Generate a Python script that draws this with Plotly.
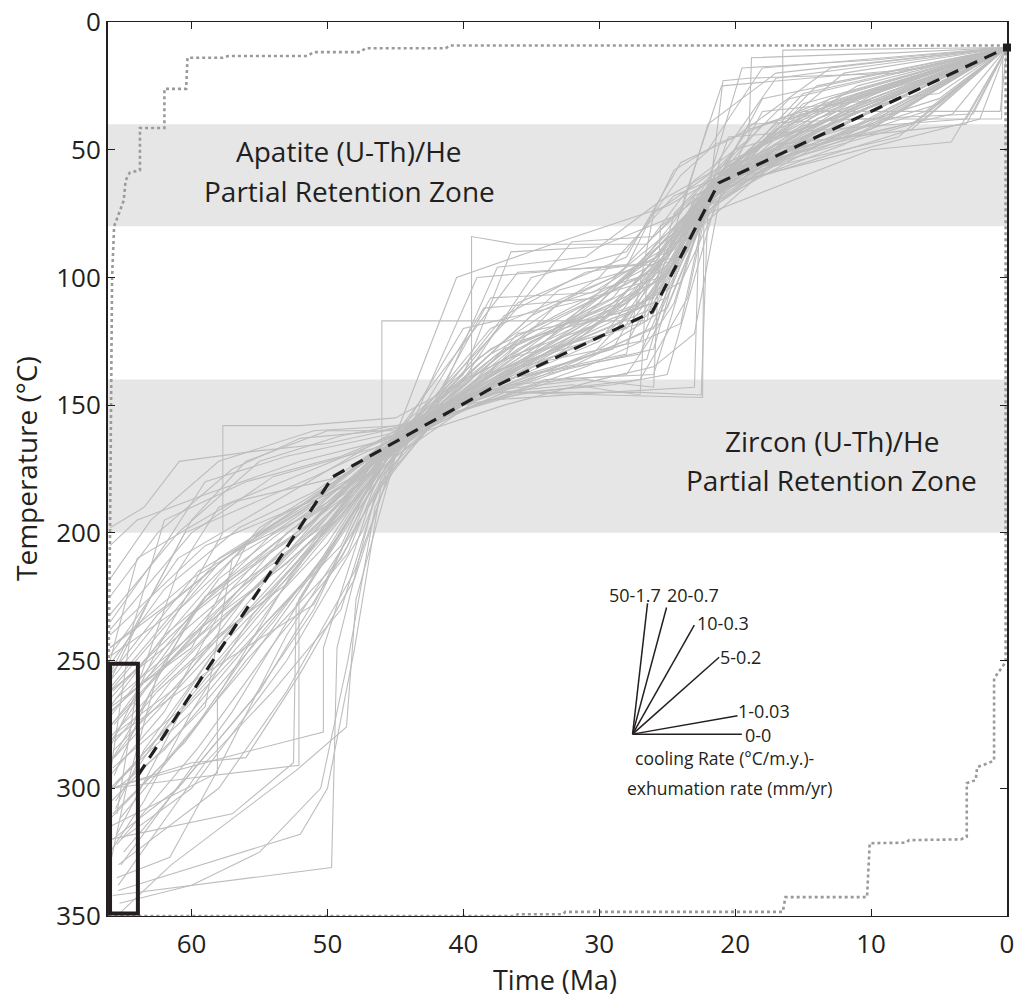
import plotly.graph_objects as go

# ---------------- data ----------------
x_ticks = [60, 50, 40, 30, 20, 10, 0]
y_ticks = [0, 50, 100, 150, 200, 250, 300, 350]

apatite_zone = [40, 80]
zircon_zone = [140, 200]

# thermal history paths (time Ma, temperature C)
gray_paths = [
    [(66.0,262),(58.0,212),(49.5,180),(44.0,158),(33.0,128),(24.0,95),(21.0,62),(12.0,35),(0,10)],
    [(65.8,300),(55.0,235),(48.0,182),(43.0,156),(30.0,118),(23.5,78),(19.0,50),(8.0,28),(0,10)],
    [(66.1,285),(62.0,240),(52.0,196),(45.5,165),(38.0,140),(27.0,112),(22.0,70),(14.0,42),(0,10)],
    [(65.5,318),(60.0,262),(51.0,205),(46.0,168),(36.0,128),(26.0,100),(21.5,60),(10.0,30),(0,10)],
    [(66.0,248),(61.0,210),(53.0,185),(45.0,160),(40.0,148),(30.0,125),(22.5,72),(16.0,45),(0,10)],
    [(65.2,330),(57.0,270),(49.0,200),(44.5,162),(35.0,115),(25.0,90),(21.0,58),(13.0,30),(0,10)],
    [(66.0,272),(59.0,225),(50.0,188),(44.0,160),(39.0,100),(28.0,95),(22.0,62),(6.0,35),(0,10)],
    [(65.7,295),(63.0,262),(54.0,214),(47.0,172),(42.0,155),(33.0,140),(26.5,132),(23.0,68),(15.0,48),(0,10)],
    [(66.0,255),(60.5,200),(51.0,178),(45.0,163),(37.0,145),(27.0,145),(22.5,146),(22.0,72),(11.0,40),(0,10)],
    [(65.4,340),(52.0,318),(50.0,300),(48.0,245),(46.0,180),(41.0,150),(32.0,115),(24.0,85),(20.0,55),(4.0,36),(0,10)],
    [(65.8,342),(49.7,331),(49.3,245),(46.5,185),(42.0,155),(32.0,120),(24.0,80),(20.5,55),(9.0,25),(0,10)],
    [(65.3,349),(61.5,330),(52.3,293),(48.6,276),(47.9,226),(45.0,170),(40.0,140),(30.0,115),(24.5,88),(21.0,60),(12.0,32),(0,10)],
    [(65.5,335),(61.6,327),(58.2,294),(53.0,240),(47.0,190),(44.0,160),(36.0,125),(26.0,110),(22.0,65),(17.0,40),(0,10)],
    [(66.0,300),(56.2,286),(50.3,278),(50.3,245),(47.0,190),(43.5,160),(37.0,132),(28.0,120),(22.5,80),(15.0,45),(0,10)],
    [(66.0,315),(58.1,294),(58.1,264),(52.5,215),(46.0,175),(41.0,152),(34.0,130),(27.0,105),(22.0,66),(10.0,38),(0,10)],
    [(65.9,300),(60.0,296),(52.1,291),(52.1,226),(47.0,182),(44.0,158),(38.0,142),(29.0,128),(23.0,70),(18.0,52),(5.0,30),(0,10)],
    [(66.0,240),(59.0,205),(50.0,185),(46.0,175),(46.0,117),(26.5,117),(24.5,75),(20.0,50),(8.0,30),(0,10)],
    [(66.0,268),(62.0,240),(57.7,200),(57.7,158),(52.0,158),(45.0,155),(38.0,135),(30.0,110),(23.0,72),(18.0,40),(0,10)],
    [(66.0,198),(63.5,190),(60.9,172),(55.3,168),(50.0,165),(44.0,158),(34.0,138),(26.0,120),(21.5,64),(11.0,30),(0,10)],
    [(66.0,280),(56.0,225),(48.0,182),(43.0,157),(39.4,140),(39.4,84),(36.1,87),(26.5,87),(23.0,62),(19.0,46),(18.8,14),(8.0,12),(0,10)],
    [(65.6,305),(57.5,240),(49.0,190),(44.0,160),(35.0,120),(25.0,92),(21.0,62),(16.5,40),(16.5,11),(0,10)],
    [(66.0,258),(59.5,215),(51.5,190),(45.5,163),(37.0,128),(27.5,108),(22.0,72),(20.9,23),(19.0,22),(8.0,20),(0,10)],
    [(65.9,275),(58.5,232),(50.5,193),(45.0,165),(38.5,138),(29.0,122),(24.0,88),(21.0,68),(11.9,38),(0.4,38),(0.3,12),(0,10)],
    [(65.7,288),(57.0,238),(49.0,193),(44.0,161),(36.0,130),(27.0,112),(22.0,75),(10.0,50),(4.1,47),(0,10)],
    [(66.0,245),(60.0,218),(52.0,192),(46.0,167),(37.0,145),(22.4,147),(22.3,75),(16.0,50),(0,10)],
    [(65.9,260),(58.0,210),(50.0,183),(45.0,162),(40.5,100),(34.0,88),(25.0,72),(21.0,60),(12.0,20),(0,10)],
    [(65.0,325),(55.0,262),(48.5,205),(45.5,165),(39.0,145),(31.0,140),(26.0,143),(25.5,80),(21.0,62),(15.0,28),(0,10)],
    [(66.0,265),(61.0,235),(55.0,198),(48.0,175),(43.0,157),(36.0,110),(28.0,92),(24.0,55),(20.0,45),(13.0,18),(0,10)],
    [(65.8,310),(60.5,282),(56.0,250),(49.0,210),(45.0,168),(41.0,152),(33.0,130),(26.5,115),(21.5,66),(7.0,42),(0,10)],
    [(66.0,225),(62.5,200),(57.0,175),(52.0,163),(46.0,160),(43.0,156),(32.0,118),(26.0,102),(22.5,70),(18.0,58),(9.0,36),(0,10)],
    [(65.9,305),(59.0,268),(57.0,210),(50.0,188),(44.5,162),(38.0,120),(29.0,100),(22.5,72),(19.5,18),(10.0,15),(0,10)],
    [(65.2,320),(60.0,300),(53.0,250),(47.5,200),(45.0,168),(40.0,150),(35.0,145),(27.0,140),(23.5,108),(22.0,70),(14.0,38),(0,10)],
    [(66.0,238),(60.0,200),(54.0,178),(46.0,166),(42.0,150),(37.5,96),(31.0,92),(25.5,70),(20.5,55),(11.0,28),(0,10)],
    [(65.6,280),(59.0,255),(51.0,228),(47.0,185),(44.0,160),(38.0,138),(30.0,118),(25.0,92),(21.0,64),(2.0,38),(0,10)],
    [(66.0,295),(62.0,270),(58.0,232),(52.0,200),(46.5,172),(42.5,155),(35.0,125),(28.0,110),(22.5,68),(19.0,42),(6.0,22),(0,10)],
    [(65.9,270),(61.0,245),(55.0,210),(51.0,195),(45.5,166),(41.0,145),(33.0,105),(27.0,96),(21.5,63),(17.0,48),(3.0,40),(0,10)],
    [(65.4,330),(58.0,300),(53.0,262),(48.0,215),(45.0,170),(39.0,148),(30.0,128),(25.0,112),(21.0,60),(10.0,42),(0,10)],
    [(66.0,250),(64.0,210),(57.0,188),(49.0,178),(43.5,158),(34.0,125),(26.5,93),(22.0,66),(15.0,35),(0.5,35),(0,10)],
    [(65.8,262),(59.5,230),(53.5,205),(48.5,185),(44.0,160),(38.5,112),(30.0,108),(24.0,80),(20.5,60),(14.0,25),(0,10)],
    [(66.0,282),(63.0,258),(56.5,222),(50.0,196),(45.5,165),(42.0,140),(36.0,98),(26.0,95),(22.0,62),(16.0,30),(0,10)],
    [(65.5,300),(62.0,285),(54.0,235),(49.0,200),(45.0,166),(40.0,152),(31.0,135),(24.0,118),(22.5,80),(20.0,60),(8.0,45),(0,10)],
    [(66.0,232),(61.0,200),(55.0,172),(49.0,162),(44.0,157),(37.0,140),(28.0,130),(26.0,75),(22.0,60),(17.0,22),(0,10)],
    [(65.7,275),(61.5,250),(54.5,218),(47.5,180),(44.5,160),(40.0,120),(32.0,110),(25.5,100),(21.0,65),(18.0,35),(5.0,28),(0,10)],
    [(66.0,258),(63.0,225),(60.0,195),(56.0,172),(50.0,160),(45.0,160),(38.0,128),(29.0,105),(23.5,90),(21.5,60),(11.0,25),(0,10)],
    [(65.3,312),(60.0,278),(55.0,240),(50.0,208),(46.0,175),(42.5,155),(36.0,135),(27.0,125),(22.0,70),(13.0,40),(0,10)],
    [(66.0,290),(64.0,272),(60.0,232),(54.0,200),(48.0,178),(44.5,160),(37.0,118),(32.0,86),(26.0,84),(21.5,62),(12.0,45),(0,10)],
    [(65.9,268),(60.0,245),(56.0,205),(49.5,188),(45.5,165),(41.5,150),(34.0,138),(26.0,128),(23.0,72),(19.0,55),(15.0,36),(0,10)],
    [(65.6,298),(58.0,255),(50.5,212),(46.5,178),(44.0,159),(36.5,142),(28.0,138),(24.5,110),(22.0,68),(10.0,30),(0,10)],
    [(66.0,245),(61.0,225),(54.0,195),(47.0,175),(43.5,158),(38.0,148),(29.5,145),(23.0,143),(22.6,70),(18.0,48),(0,10)],
    [(65.8,320),(61.0,300),(55.5,265),(51.0,230),(47.5,190),(44.0,160),(39.0,132),(30.0,100),(24.5,68),(20.0,58),(9.0,38),(0,10)],
    [(66.0,205),(64.0,195),(59.0,185),(52.0,172),(46.0,164),(41.0,150),(33.0,130),(25.0,98),(21.5,66),(16.5,40),(0,10)],
    [(65.5,278),(61.0,260),(56.0,225),(50.0,198),(46.0,170),(43.0,157),(38.0,108),(30.5,106),(25.0,88),(21.0,63),(14.0,42),(0,10)],
    [(66.0,300),(60.0,270),(54.5,235),(49.0,205),(46.0,170),(41.5,155),(33.5,128),(27.0,118),(22.0,68),(20.5,45),(3.0,38),(0,10)],
    [(65.9,255),(62.5,232),(57.5,210),(51.5,188),(44.5,162),(40.0,145),(35.0,130),(29.0,112),(24.0,80),(21.0,60),(18.0,30),(0,10)],
    [(65.4,338),(63.0,320),(59.0,290),(54.0,262),(49.0,230),(46.0,178),(42.0,156),(34.0,140),(26.0,138),(22.0,68),(12.0,48),(0,10)],
    [(66.0,270),(59.0,238),(53.0,200),(48.0,182),(43.5,158),(37.0,115),(31.0,98),(24.0,92),(21.5,60),(13.5,32),(0,10)],
    [(65.7,285),(62.0,265),(57.0,235),(52.5,205),(47.0,178),(42.0,154),(36.0,136),(30.0,124),(25.5,104),(22.5,74),(17.0,55),(7.0,40),(0,10)],
    [(66.0,312),(62.0,290),(56.0,252),(51.0,215),(46.0,172),(41.0,150),(31.0,118),(26.0,108),(23.5,65),(21.0,25),(6.0,18),(0,10)],
    [(65.9,248),(60.5,228),(55.0,200),(48.5,180),(44.0,159),(39.0,146),(32.0,142),(27.0,146),(26.5,100),(21.0,62),(9.0,32),(0,10)],
    [(65.6,308),(63.5,285),(58.5,248),(53.0,218),(48.0,185),(44.5,160),(38.0,130),(31.5,112),(27.0,100),(22.0,64),(15.5,46),(0,10)],
    [(66.0,262),(62.0,245),(57.0,222),(51.0,200),(45.0,162),(40.0,138),(36.5,90),(30.0,88),(24.0,75),(22.0,40),(17.0,20),(0,10)],
    [(65.8,292),(61.0,270),(55.0,232),(50.0,204),(45.5,168),(42.0,155),(35.5,145),(29.0,142),(25.0,138),(21.5,72),(14.0,45),(0,10)],
    [(66.0,218),(63.0,195),(58.0,172),(51.0,160),(44.5,158),(38.0,140),(31.0,120),(25.0,108),(22.0,68),(19.0,40),(2.5,36),(0,10)],
    [(65.5,322),(59.5,284),(53.5,240),(48.5,208),(45.5,168),(41.0,152),(35.0,132),(28.5,118),(23.0,76),(20.0,60),(11.0,35),(0,10)],
    [(66.0,276),(63.0,255),(58.0,218),(52.0,194),(46.5,172),(43.0,157),(39.5,145),(33.0,110),(26.0,98),(22.0,64),(16.0,38),(0,10)],
    [(65.9,300),(60.0,290),(56.0,288),(52.0,255),(48.0,218),(45.0,168),(40.0,148),(30.5,130),(24.5,96),(21.0,64),(13.0,32),(0,10)],
    [(65.6,265),(60.0,240),(53.0,212),(47.5,184),(44.0,160),(40.5,148),(36.0,122),(28.5,114),(24.0,102),(20.5,62),(10.0,40),(0,10)],
    [(66.0,290),(61.5,258),(54.0,222),(48.5,190),(45.0,164),(37.0,150),(30.0,140),(26.0,135),(23.0,122),(21.0,65),(15.0,32),(0,10)],
    [(65.7,282),(62.5,262),(58.0,240),(53.0,220),(48.0,188),(44.0,160),(35.0,130),(28.0,96),(24.5,58),(22.0,50),(18.0,18),(0,10)],
    [(66.0,325),(63.5,305),(60.0,270),(55.5,232),(50.5,200),(46.0,168),(42.0,153),(36.0,126),(29.0,108),(23.0,68),(11.0,44),(0,10)],
    [(65.8,250),(62.0,222),(56.5,198),(51.0,184),(45.5,164),(40.0,150),(32.5,136),(25.5,118),(22.0,72),(18.0,55),(6.0,38),(0,10)],
    [(66.0,235),(62.0,205),(59.0,180),(53.0,170),(46.0,162),(42.0,156),(35.0,100),(28.0,90),(24.0,60),(21.5,48),(12.0,28),(0,10)],
    [(66.0,295),(64.5,240),(62.0,195),(56.0,180),(49.0,170),(44.0,159),(36.0,140),(28.0,126),(22.5,72),(14.0,38),(0,10)],
    [(65.5,310),(64.0,260),(61.0,215),(58.0,190),(51.0,175),(45.0,162),(39.0,146),(31.5,124),(25.0,95),(21.5,62),(9.0,26),(0,10)],
    [(66.0,330),(64.8,300),(62.5,255),(59.0,225),(52.0,200),(46.5,170),(43.0,157),(37.0,140),(27.0,130),(22.5,75),(17.0,42),(0,10)],
    [(65.3,345),(60.0,338),(55.0,325),(50.5,300),(48.5,250),(46.5,190),(43.5,158),(35.0,132),(26.0,112),(22.0,70),(12.0,36),(0,10)],
    [(66.0,320),(57.0,310),(52.5,290),(52.3,228),(47.0,185),(44.0,160),(37.5,130),(29.0,110),(23.0,82),(20.5,58),(5.0,32),(0,10)],
]

# weighted mean path (dashed)
mean_time = [63.95, 49.6, 37.8, 26.1, 21.6, 21.2, 0.0]
mean_temp = [295.0, 178.0, 143.0, 113.5, 67.0, 63.0, 10.0]

# envelope of good fits (dotted)
upper_env_time = [66.15, 66.1, 66.0, 65.9, 65.85, 65.7, 65.0, 64.85, 64.55, 63.8, 63.8, 62.0, 62.0,
                  60.4, 60.3, 57.7, 57.3, 51.5, 51.0, 47.6, 47.2, 41.3, 41.0, 0.1, 0.0]
upper_env_temp = [350, 250, 200, 140, 100, 80, 70, 62, 59, 58, 41.5, 41.5, 26.2,
                  26.2, 14.0, 14.0, 13.3, 13.3, 11.8, 11.8, 10.3, 10.3, 9.2, 9.2, 10]
lower_env_time = [0.0, 0.1, 0.1, 0.4, 0.95, 0.95, 1.3, 2.2, 2.3, 2.96, 2.96, 3.4, 7.2, 7.45,
                  10.1, 10.3, 16.3, 16.5, 32.5, 32.7, 36.0, 36.2, 66.15]
lower_env_temp = [10, 10, 250.6, 253, 257, 289, 290, 291.7, 296.8, 298, 319, 320, 320.3, 321.3,
                  321.5, 342.6, 342.6, 348.4, 348.4, 349.3, 349.3, 350, 350]

# cooling-rate key
rate_labels = ["50-1.7", "20-0.7", "10-0.3", "5-0.2", "1-0.03", "0-0"]
rate_origin = (27.55, 278.8)
rate_end_time = [26.45, 25.05, 23.01, 21.18, 19.83, 19.51]
rate_end_temp = [227.6, 229.2, 236.1, 248.7, 271.6, 278.8]

# ---------------- figure ----------------
FONT = "Open Sans, Noto Sans, sans-serif"
fig = go.Figure()

for p in gray_paths:
    fig.add_trace(go.Scatter(
        x=[q[0] for q in p], y=[q[1] for q in p], mode="lines",
        line=dict(color="#bdbdbd", width=1.1), hoverinfo="skip"))

for tx, ty in [(upper_env_time, upper_env_temp), (lower_env_time, lower_env_temp)]:
    fig.add_trace(go.Scatter(
        x=tx, y=ty, mode="lines", cliponaxis=False,
        line=dict(color="#9a9a9a", width=2.6, dash="3px,3px"), hoverinfo="skip"))

fig.add_trace(go.Scatter(
    x=mean_time, y=mean_temp, mode="lines",
    line=dict(color="#231f20", width=3.2, dash="13px,8px"), hoverinfo="skip"))
fig.add_trace(go.Scatter(
    x=[mean_time[-1]], y=[mean_temp[-1]], mode="markers", cliponaxis=False,
    marker=dict(symbol="square", size=8, color="#231f20"), hoverinfo="skip"))

rx, ry = [], []
for et, eT in zip(rate_end_time, rate_end_temp):
    rx += [rate_origin[0], et, None]
    ry += [rate_origin[1], eT, None]
fig.add_trace(go.Scatter(x=rx, y=ry, mode="lines",
                         line=dict(color="#231f20", width=1.5), hoverinfo="skip"))

# zones
for z in (apatite_zone, zircon_zone):
    fig.add_shape(type="rect", xref="paper", yref="y", x0=0, x1=1, y0=z[0], y1=z[1],
                  fillcolor="#e6e6e6", line=dict(width=0), layer="below")

# black box
fig.add_shape(type="rect", xref="x", yref="y", x0=66.0, x1=63.95, y0=251.2, y1=349,
              line=dict(color="#231f20", width=4), layer="above")

ann_font = dict(family=FONT, size=28, color="#231f20")
for txt, xx, yy in [("Apatite (U-Th)/He", 48.4, 50.5), ("Partial Retention Zone", 48.4, 66.2),
                    ("Zircon (U-Th)/He", 12.9, 164.0), ("Partial Retention Zone", 12.9, 179.5)]:
    fig.add_annotation(x=xx, y=yy, text=txt, showarrow=False, font=ann_font,
                       xanchor="center", yanchor="middle")

lab_pos = [(29.34, 224.4), (25.07, 224.4), (22.87, 235.3), (21.18, 248.6), (19.85, 269.8), (19.34, 279.2)]
for txt, (xx, yy) in zip(rate_labels, lab_pos):
    fig.add_annotation(x=xx, y=yy, text=txt, showarrow=False, xanchor="left", yanchor="middle",
                       font=dict(family=FONT, size=18, color="#231f20"), borderpad=0)
fig.add_annotation(x=20.8, y=288.2, text="cooling Rate (°C/m.y.)-", showarrow=False,
                   xanchor="center", yanchor="middle",
                   font=dict(family=FONT, size=17.5, color="#231f20"))
fig.add_annotation(x=20.44, y=299.9, text="exhumation rate (mm/yr)", showarrow=False,
                   xanchor="center", yanchor="middle",
                   font=dict(family=FONT, size=17.5, color="#231f20"))

# axis titles (plot area spans x 108..1007, y 22..916 in page pixels)
PLOT_W, PLOT_H = 899, 894
fig.add_annotation(xref="paper", yref="paper", x=(26 - 108) / PLOT_W, y=0.5,
                   text="Temperature (°C)", textangle=-90, showarrow=False,
                   xanchor="center", yanchor="middle",
                   font=dict(family=FONT, size=28, color="#231f20"))
fig.add_annotation(xref="paper", yref="paper", x=(555 - 108) / PLOT_W, y=-(979 - 916) / PLOT_H,
                   text="Time (Ma)", showarrow=False, xanchor="center", yanchor="middle",
                   font=dict(family=FONT, size=27, color="#231f20"))

fig.update_layout(
    width=1022, height=1002,
    margin=dict(l=108, r=15, t=22, b=86, autoexpand=False),
    paper_bgcolor="white", plot_bgcolor="white",
    showlegend=False, hovermode=False,
    font=dict(family=FONT, color="#231f20"),
)
fig.update_xaxes(range=[66.15, 0], tickvals=x_ticks, ticktext=[str(v) for v in x_ticks],
                 ticks="inside", ticklen=7, tickwidth=1, tickcolor="#231f20",
                 showline=True, linecolor="#231f20", linewidth=1.3, mirror="ticks",
                 showgrid=False, zeroline=False, automargin=False, ticklabelstandoff=4,
                 ticklabeloverflow="allow",
                 tickfont=dict(family=FONT, size=26, color="#231f20"))
fig.update_yaxes(range=[350, 0], tickvals=y_ticks, ticktext=[str(v) for v in y_ticks],
                 ticks="inside", ticklen=7, tickwidth=1, tickcolor="#231f20",
                 showline=True, linecolor="#231f20", linewidth=2, mirror="ticks",
                 showgrid=False, zeroline=False, automargin=False,
                 ticklabeloverflow="allow",
                 tickfont=dict(family=FONT, size=26, color="#231f20"))

fig.write_html("out.html", config={"displayModeBar": False, "staticPlot": True},
               post_script="document.body.style.margin='0';document.body.style.overflow='hidden';")
